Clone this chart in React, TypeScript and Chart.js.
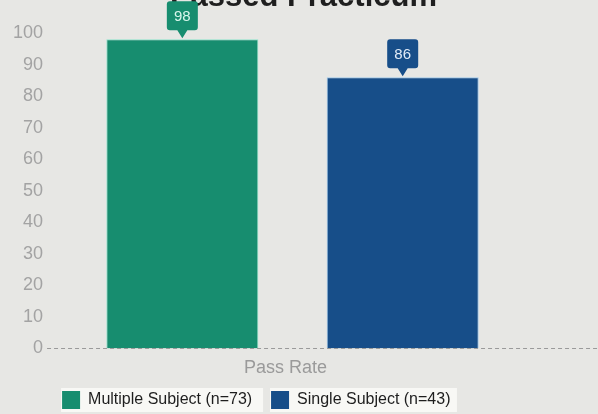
import React, { useEffect, useRef } from "react";
import { Chart, registerables } from "chart.js";

Chart.register(...registerables);

const categories = ["Pass Rate"];
const seriesNames = ["Multiple Subject (n=73)", "Single Subject (n=43)"];
const multipleSubject = [98];
const singleSubject = [86];
const seriesColors = ["#178d6f", "#174e89"];
const seriesEdge = ["#8fe3cc", "#9cc6ea"];
const labelTextColors = ["#d8f6ec", "#e2ecf8"];
const yMin = 0;
const yMax = 100;
const yStep = 10;
const titleText = "Passed Practicum";

const LEGEND_SHIFT_X = -13;
const LEGEND_SHIFT_Y = 1;

const bgPlugin = {
  id: "bgPlugin",
  beforeDraw(chart: any) {
    const { ctx, width, height } = chart;
    ctx.save();
    ctx.fillStyle = "#e7e7e4";
    ctx.fillRect(0, 0, width, height);
    const lg = chart.legend;
    if (lg && lg.legendHitBoxes) {
      ctx.fillStyle = "rgba(250,250,248,0.85)";
      lg.legendHitBoxes.forEach((hb: any) => {
        ctx.fillRect(hb.left - 1, hb.top - 3, hb.width + 3, hb.height + 6);
      });
    }
    ctx.restore();
  },
};

const titlePlugin = {
  id: "titlePlugin",
  beforeDatasetsDraw(chart: any) {
    const { ctx } = chart;
    ctx.save();
    ctx.fillStyle = "#1f1f1f";
    ctx.font = "bold 31px 'Liberation Sans', Arial, sans-serif";
    ctx.textAlign = "right";
    ctx.textBaseline = "alphabetic";
    ctx.fillText(titleText, 437, 6);
    ctx.restore();
  },
};

const zeroLinePlugin = {
  id: "zeroLinePlugin",
  afterDatasetsDraw(chart: any) {
    const { ctx, width } = chart;
    const y = Math.round(chart.scales.y.getPixelForValue(0)) + 0.5;
    ctx.save();
    ctx.strokeStyle = "#9a9a9a";
    ctx.lineWidth = 1;
    ctx.setLineDash([4, 3]);
    ctx.beginPath();
    ctx.moveTo(chart.chartArea.left - 2, y);
    ctx.lineTo(width, y);
    ctx.stroke();
    ctx.restore();
  },
};

const calloutPlugin = {
  id: "calloutPlugin",
  afterDatasetsDraw(chart: any) {
    const { ctx } = chart;
    chart.data.datasets.forEach((ds: any, i: number) => {
      const meta = chart.getDatasetMeta(i);
      meta.data.forEach((bar: any, j: number) => {
        const v = ds.data[j];
        const x = bar.x;
        const top = bar.y;
        const w = 31;
        const h = 29;
        const r = 3;
        const tip = top - 1;
        const bottom = top - 9;
        const y0 = bottom - h;
        const x0 = x - w / 2;
        const x1 = x + w / 2;
        ctx.save();
        ctx.fillStyle = seriesColors[i];
        ctx.beginPath();
        ctx.moveTo(x0 + r, y0);
        ctx.lineTo(x1 - r, y0);
        ctx.quadraticCurveTo(x1, y0, x1, y0 + r);
        ctx.lineTo(x1, bottom - r);
        ctx.quadraticCurveTo(x1, bottom, x1 - r, bottom);
        ctx.lineTo(x + 5, bottom);
        ctx.lineTo(x, tip);
        ctx.lineTo(x - 5, bottom);
        ctx.lineTo(x0 + r, bottom);
        ctx.quadraticCurveTo(x0, bottom, x0, bottom - r);
        ctx.lineTo(x0, y0 + r);
        ctx.quadraticCurveTo(x0, y0, x0 + r, y0);
        ctx.closePath();
        ctx.fill();
        ctx.fillStyle = labelTextColors[i];
        ctx.font = "15px 'Liberation Sans', Arial, sans-serif";
        ctx.textAlign = "center";
        ctx.textBaseline = "middle";
        ctx.fillText(String(v), x, y0 + h / 2 + 1);
        ctx.restore();
      });
    });
  },
};

const legendShiftPlugin = {
  id: "legendShiftPlugin",
  afterLayout(chart: any) {
    const lg = chart.legend;
    if (lg) {
      lg.left += LEGEND_SHIFT_X;
      lg.right += LEGEND_SHIFT_X;
      lg.top += LEGEND_SHIFT_Y;
      lg.bottom += LEGEND_SHIFT_Y;
    }
  },
};

export default function App() {
  const ref = useRef<HTMLCanvasElement | null>(null);
  useEffect(() => {
    if (!ref.current) return;
    const chart = new Chart(ref.current, {
      type: "bar",
      data: {
        labels: categories,
        datasets: [
          {
            label: seriesNames[0],
            data: multipleSubject,
            backgroundColor: seriesColors[0],
            borderColor: seriesEdge[0],
            borderWidth: 1,
          },
          {
            label: seriesNames[1],
            data: singleSubject,
            backgroundColor: seriesColors[1],
            borderColor: seriesEdge[1],
            borderWidth: 1,
          },
        ],
      },
      options: {
        animation: false,
        responsive: true,
        maintainAspectRatio: false,
        datasets: {
          bar: { categoryPercentage: 0.905, barPercentage: 0.69 },
        },
        layout: { padding: { top: 33, left: 7, right: 62, bottom: -4 } },
        scales: {
          x: {
            grid: { display: false },
            border: { display: false },
            ticks: {
              color: "#9a9a9a",
              font: { size: 18, family: "'Liberation Sans', Arial, sans-serif" },
              padding: 1,
              labelOffset: -7,
            },
          },
          y: {
            min: yMin,
            max: yMax,
            grid: { display: false, drawTicks: false },
            border: { display: false },
            ticks: {
              stepSize: yStep,
              color: "#a3a3a3",
              font: { size: 18, family: "'Liberation Sans', Arial, sans-serif" },
              padding: 6,
            },
          },
        },
        plugins: {
          title: { display: false },
          tooltip: { enabled: false },
          legend: {
            position: "bottom",
            labels: {
              boxWidth: 18,
              boxHeight: 18,
              padding: 10,
              color: "#1e1e1e",
              font: { size: 16, family: "'Liberation Sans', Arial, sans-serif" },
              generateLabels(c: any) {
                const items = Chart.defaults.plugins.legend.labels.generateLabels(c);
                return items.map((it: any, k: number) => ({
                  ...it,
                  text: k < items.length - 1 ? it.text + "  " : it.text + " ",
                  lineWidth: 0,
                  strokeStyle: "transparent",
                }));
              },
            },
          },
        },
      },
      plugins: [bgPlugin, legendShiftPlugin, titlePlugin, zeroLinePlugin, calloutPlugin],
    });
    return () => chart.destroy();
  }, []);
  return (
    <div style={{ position: "absolute", left: 0, top: 0, width: 598, height: 414 }}>
      <canvas ref={ref} />
    </div>
  );
}
